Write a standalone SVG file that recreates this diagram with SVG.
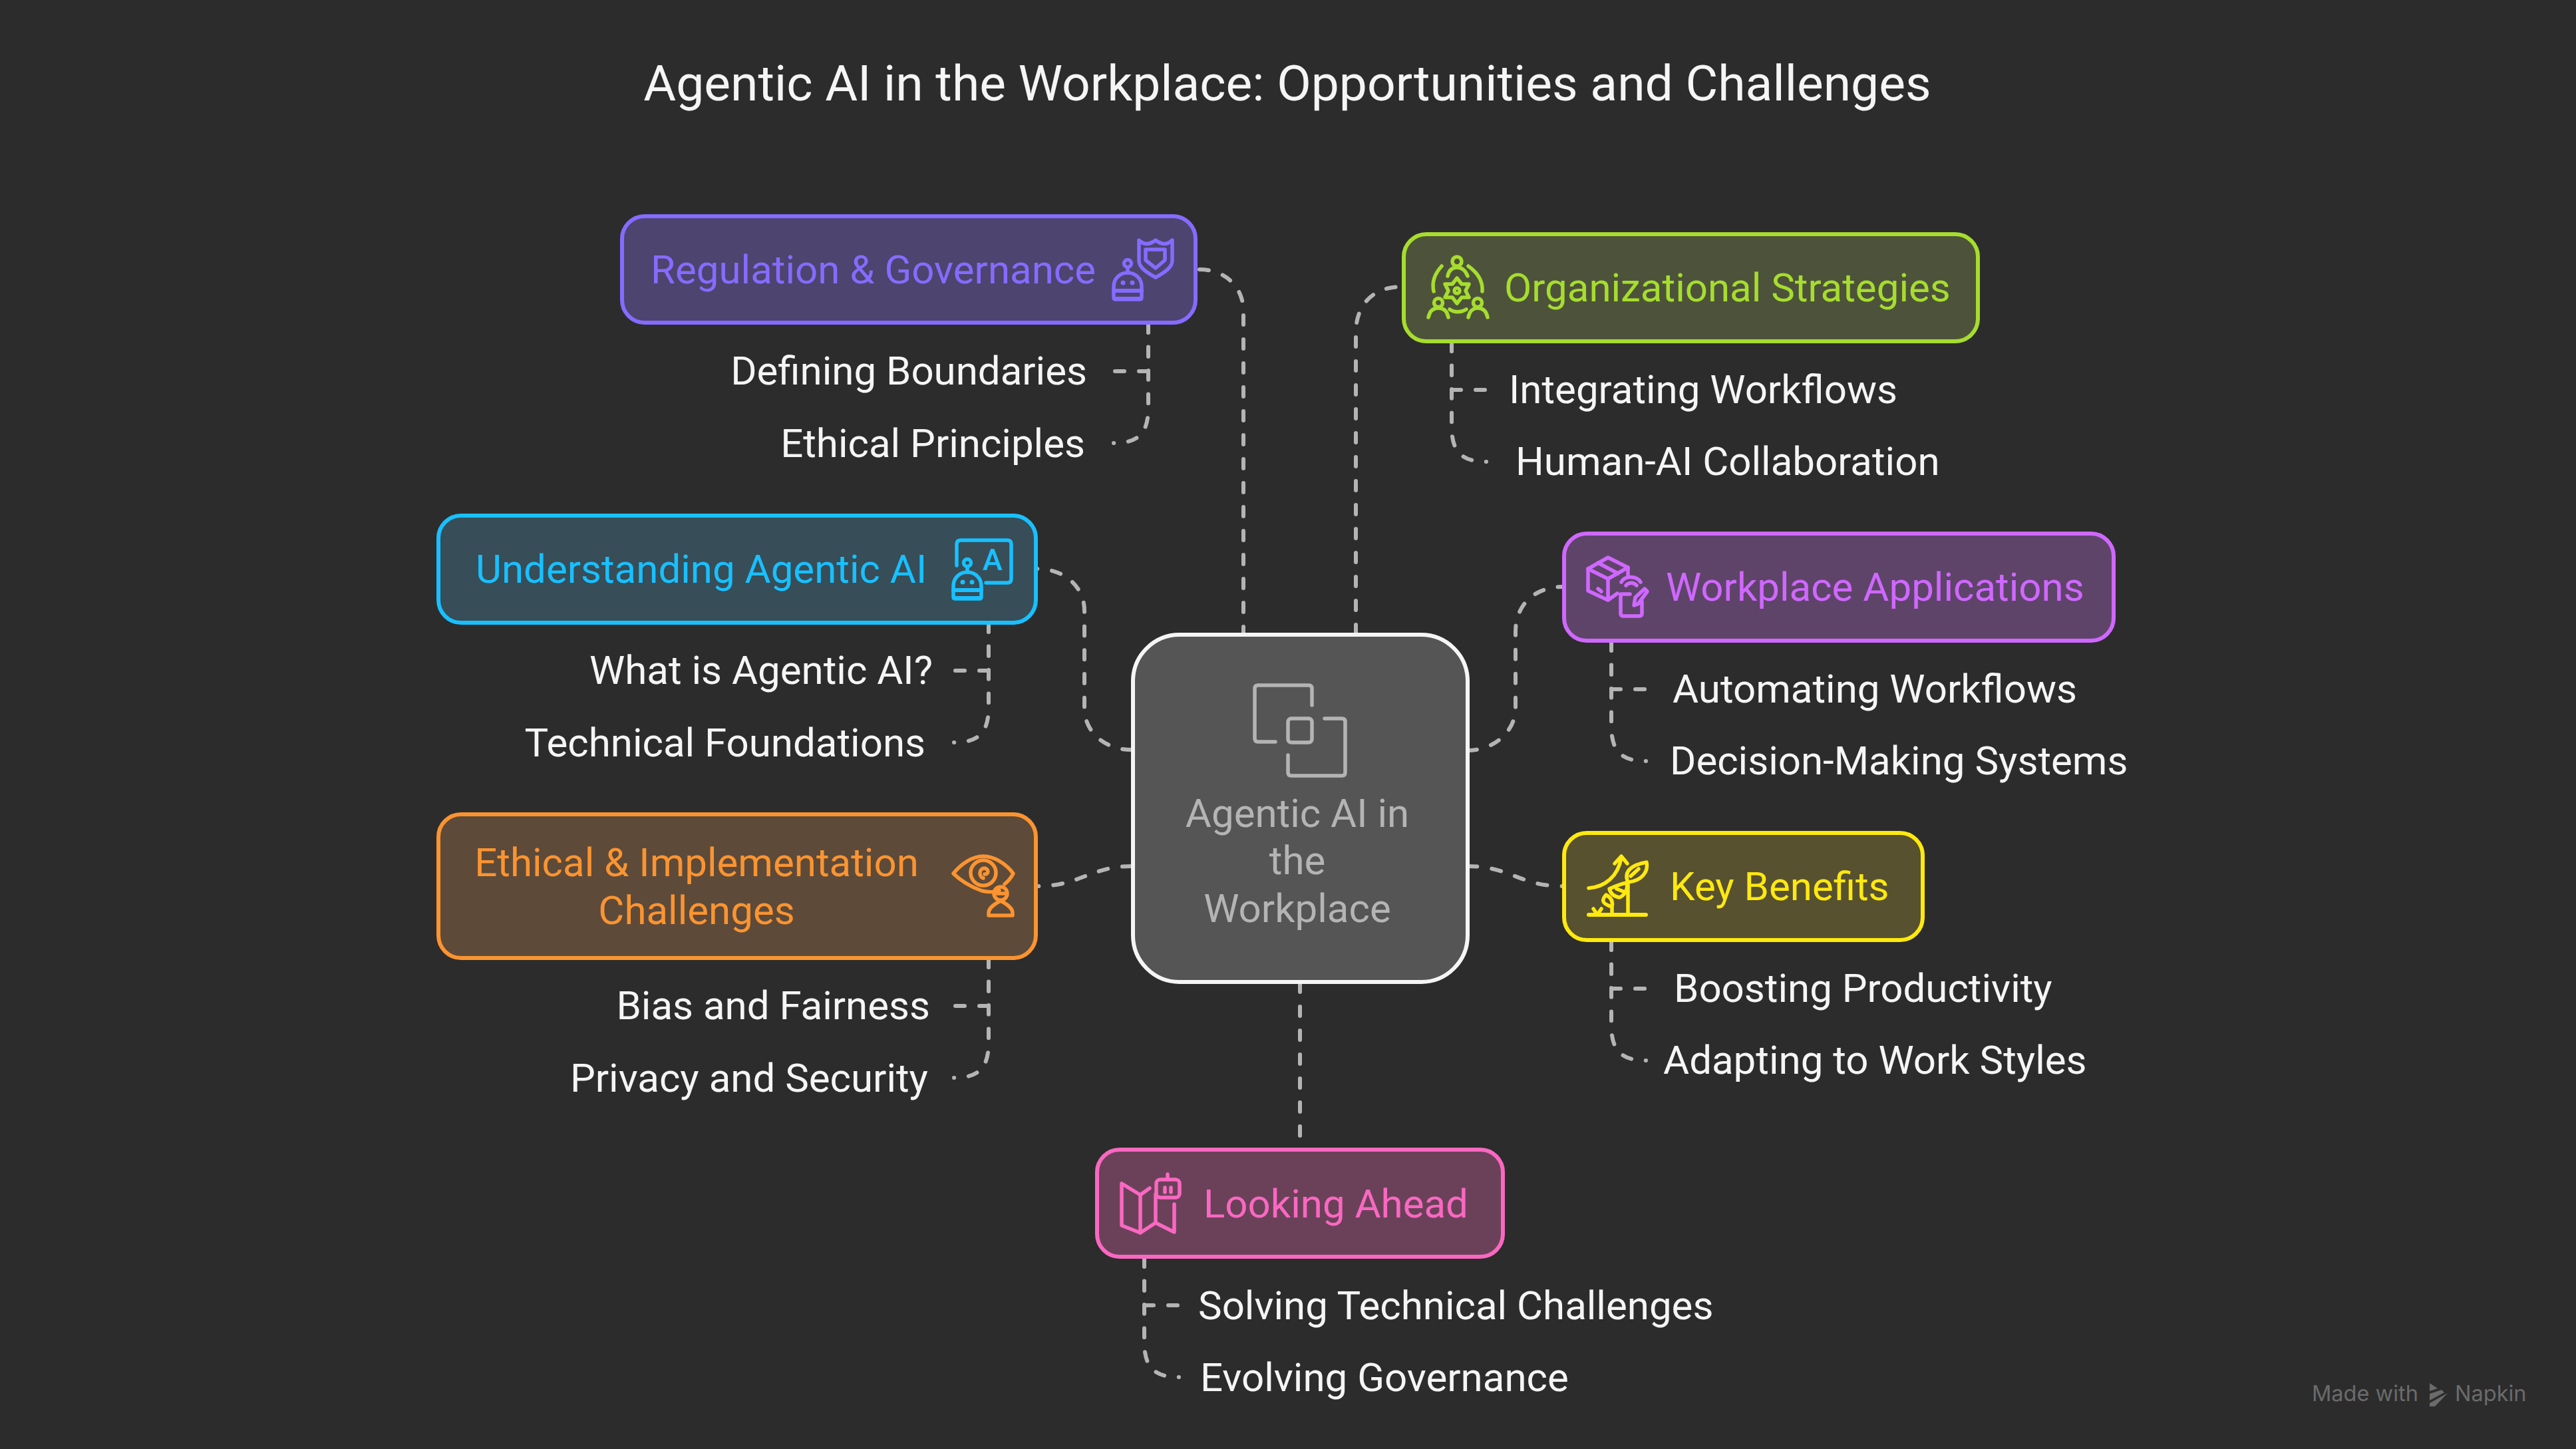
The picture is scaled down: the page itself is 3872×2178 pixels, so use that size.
<svg xmlns="http://www.w3.org/2000/svg" width="3872" height="2178" viewBox="0 0 3872 2178">
<style>
text{font-family:Roboto,"Liberation Sans",sans-serif;font-size:60px}
.title{font-size:75px;fill:#f5f5f5;text-anchor:middle}
.leaf{fill:#f5f5f5}
.end{text-anchor:end}
.mid{text-anchor:middle}
.box{stroke-width:6}
.ic{fill:none;stroke:currentColor;stroke-width:5.5;stroke-linecap:round;stroke-linejoin:round}
.lbl{fill:currentColor}
.sf{fill:currentColor;stroke:none}
#connectors path{fill:none;stroke:#b4b4b4;stroke-width:6;stroke-linecap:round;stroke-linejoin:round;stroke-dasharray:14 22}
.wm{font-family:Inter,"Liberation Sans",sans-serif;font-size:32.5px;fill:#6b6b6b}
</style>
<defs>
<g id="bot" class="ic">
<circle cx="24" cy="7" r="5.5"/><path d="M24 13V21"/>
<path d="M3 42C3 30 12 21 24 21C36 21 45 30 45 42V58Q45 61 42 61H6Q3 61 3 58Z"/>
<path d="M3 48H45" style="stroke-width:6"/><path d="M5 60H43" style="stroke-width:6"/>
<circle class="sf" cx="17" cy="36" r="3.5"/><circle class="sf" cx="31" cy="36" r="3.5"/>
</g>
</defs>
<rect width="3872" height="2178" fill="#2c2c2c"/>
<text class="title" x="1935" y="151">Agentic AI in the Workplace: Opportunities and Challenges</text>

<g id="connectors">
<path d="M1803 405C1840 405 1869 430 1869 468V953"/>
<path d="M2038 953V500C2038 460 2062 431 2107 431"/>
<path pathLength="360.3" d="M1701 1127C1660 1127 1630 1100 1630 1064V918C1630 882 1600 855 1559 855"/>
<path pathLength="144.3" d="M1701 1302C1640 1302 1622 1332 1561 1332"/>
<path d="M2206 1128C2245 1128 2278 1100 2278 1064V950C2278 910 2305 882 2350 882"/>
<path pathLength="144.3" d="M2206 1302C2270 1302 2285 1332 2348 1332"/>
<path d="M1954 1477V1707"/>
<path d="M1726 486V558H1676"/>
<path pathLength="216.2" d="M1726 486V613C1726 650 1712 666 1674 666"/>
<path d="M1486 936V1008H1436"/>
<path pathLength="216.2" d="M1486 936V1063C1486 1100 1472 1116 1434 1116"/>
<path d="M1486 1440V1512H1436"/>
<path pathLength="216.2" d="M1486 1440V1567C1486 1604 1472 1620 1434 1620"/>
<path d="M2182 514V586H2232"/>
<path pathLength="216.2" d="M2182 514V641C2182 678 2196 694 2234 694"/>
<path d="M2422 964V1036H2472"/>
<path pathLength="216.2" d="M2422 964V1091C2422 1128 2436 1144 2474 1144"/>
<path d="M2422 1414V1486H2472"/>
<path pathLength="216.2" d="M2422 1414V1541C2422 1578 2436 1594 2474 1594"/>
<path d="M1720 1890V1962H1770"/>
<path pathLength="216.2" d="M1720 1890V2017C1720 2054 1734 2070 1772 2070"/>
</g>

<g id="node-center">
<rect x="1703" y="954" width="503" height="522" rx="70" fill="#555" stroke="#f5f5f5" stroke-width="6"/>
<g style="color:#b4b4b4" class="ic">
<path d="M1917 1115H1891Q1886 1115 1886 1110V1035Q1886 1030 1891 1030H1967Q1972 1030 1972 1035V1060"/>
<rect x="1936" y="1080" width="36" height="36" rx="5"/>
<path d="M1991 1080H2017Q2022 1080 2022 1085V1161Q2022 1166 2017 1166H1941Q1936 1166 1936 1161V1135"/>
</g>
<g fill="#b4b4b4"><text class="mid" x="1950" y="1243">Agentic AI in</text><text class="mid" x="1950" y="1314">the</text><text class="mid" x="1950" y="1386">Workplace</text></g>
</g>

<g id="node-regulation" style="color:#866bff">
<rect class="box" x="935" y="325" width="862" height="160" rx="34" fill="#4d446f" stroke="currentColor"/>
<text class="lbl" x="978" y="426">Regulation &amp; Governance</text>
<path class="ic" d="M1712 361Q1723 372 1737 361Q1751 372 1762 361V392C1762 402 1750 410 1737 417C1724 410 1712 402 1712 392Z"/>
<path class="ic" d="M1722 375H1751V391L1737 403L1722 391Z"/>
<use href="#bot" x="1671" y="389"/>
<text class="leaf end" x="1634" y="578">Defining Boundaries</text>
<text class="leaf end" x="1631" y="687">Ethical Principles</text>
</g>

<g id="node-understanding" style="color:#18c0ff">
<rect class="box" x="659" y="775" width="898" height="161" rx="34" fill="#374d57" stroke="currentColor"/>
<text class="lbl" x="715" y="876">Understanding Agentic AI</text>
<path class="ic" d="M1438 850V818Q1438 812 1444 812H1514Q1520 812 1520 818V870Q1520 876 1514 876H1482"/>
<text class="lbl mid" style="font-size:45px;font-weight:500" x="1492" y="857">A</text>
<use href="#bot" x="1430" y="839"/>
<text class="leaf end" x="1402" y="1028">What is Agentic AI?</text>
<text class="leaf end" x="1391" y="1137">Technical Foundations</text>
</g>

<g id="node-ethical" style="color:#fa9431">
<rect class="box" x="659" y="1224" width="898" height="216" rx="34" fill="#5e4a39" stroke="currentColor"/>
<text class="lbl mid" x="1047" y="1317">Ethical &amp; Implementation</text>
<text class="lbl mid" x="1047" y="1389">Challenges</text>
<g class="ic">
<path d="M1502 1338C1494 1342 1485 1341 1476 1339C1458 1333 1442 1322 1433 1313C1445 1298 1462 1287 1478 1287C1494 1287 1512 1298 1523 1313C1520 1319 1516 1324 1510 1329"/>
<circle cx="1478" cy="1312" r="19"/>
<path d="M1478 1320C1471 1318 1471 1305 1480 1305C1487 1306 1486 1315 1480 1314"/>
<circle cx="1504" cy="1343" r="10"/><path d="M1497 1343H1510"/>
<path d="M1486 1376V1372C1486 1365 1496 1358 1504 1354C1512 1358 1522 1365 1522 1372V1376Z"/>
</g>
<text class="leaf end" x="1398" y="1532">Bias and Fairness</text>
<text class="leaf end" x="1395" y="1641">Privacy and Security</text>
</g>

<g id="node-organizational" style="color:#a6dd2e">
<rect class="box" x="2110" y="352" width="863" height="161" rx="34" fill="#4d533a" stroke="currentColor"/>
<text class="lbl" x="2261" y="453">Organizational Strategies</text>
<g class="ic">
<circle cx="2190" cy="393" r="7"/><path d="M2176 415C2178 405 2184 402 2190 402C2196 402 2202 405 2206 415"/>
<path d="M2167 400C2156 412 2152 425 2155 438M2207 400C2224 412 2229 425 2228 438"/>
<path d="M2190 418L2197 427L2208 427L2203 437L2208 447L2197 447L2190 456L2183 447L2172 447L2177 437L2172 427L2183 427Z"/>
<circle cx="2190" cy="437" r="4"/>
<circle cx="2162" cy="455" r="6.5"/><path d="M2147 477C2149 467 2155 463 2162 463C2169 463 2175 467 2177 477"/>
<circle cx="2221" cy="455" r="6.5"/><path d="M2207 477C2209 467 2215 463 2221 463C2228 463 2234 467 2236 477"/>
<path d="M2179 465C2186 470 2196 470 2204 465"/>
</g>
<text class="leaf" x="2268" y="606">Integrating Workflows</text>
<text class="leaf" x="2278" y="714">Human-AI Collaboration</text>
</g>

<g id="node-workplace" style="color:#cf68ff">
<rect class="box" x="2351" y="802" width="826" height="161" rx="34" fill="#5f4469" stroke="currentColor"/>
<text class="lbl" x="2504" y="903">Workplace Applications</text>
<g class="ic">
<path d="M2417 838L2447 853L2417 870L2387 855Z"/>
<path d="M2387 855V888L2417 902V870M2447 853V865M2417 902L2431 892"/>
<path d="M2402 846L2432 862M2402 885L2407 889"/>
<path d="M2437 875C2442 865 2460 865 2466 875M2444 880C2448 875 2456 875 2460 880"/>
<path d="M2436 893V922Q2436 926 2440 926H2464Q2468 926 2468 922V904M2436 893H2450"/>
<path d="M2458 898L2472 885L2476 889L2462 908L2456 910Z"/>
</g>
<text class="leaf" x="2514" y="1056">Automating Workflows</text>
<text class="leaf" x="2510" y="1164">Decision-Making Systems</text>
</g>

<g id="node-key" style="color:#ffe90f">
<rect class="box" x="2351" y="1252" width="539" height="161" rx="34" fill="#575130" stroke="currentColor"/>
<text class="lbl" x="2510" y="1353">Key Benefits</text>
<g class="ic">
<path style="stroke-width:6" d="M2388 1375H2474"/>
<path d="M2447 1375V1326"/>
<path d="M2388 1335C2412 1333 2432 1318 2437 1289M2427 1298L2437 1287L2446 1298"/>
<path d="M2447 1326C2440 1310 2452 1300 2475 1296C2478 1310 2468 1324 2447 1326ZM2451 1317L2463 1306"/>
<path d="M2419 1336C2428 1332 2438 1328 2445 1327C2448 1338 2440 1347 2434 1349C2426 1347 2421 1344 2419 1336ZM2430 1336L2440 1340"/>
<path d="M2414 1345C2408 1352 2406 1358 2423 1363C2425 1355 2421 1349 2414 1345ZM2423 1363V1375"/>
<path d="M2395 1366L2401 1375L2407 1366"/>
</g>
<text class="leaf" x="2516" y="1506">Boosting Productivity</text>
<text class="leaf" x="2500" y="1614">Adapting to Work Styles</text>
</g>

<g id="node-looking" style="color:#f968c0">
<rect class="box" x="1649" y="1728" width="610" height="161" rx="34" fill="#6b415a" stroke="currentColor"/>
<text class="lbl" x="1809" y="1830">Looking Ahead</text>
<g class="ic">
<path d="M1728 1786L1714 1796L1686 1779V1842L1714 1853L1737 1838L1765 1852V1810"/>
<path d="M1714 1796V1853M1737 1795V1838"/>
<rect x="1738" y="1773" width="35" height="27" rx="6"/>
<path d="M1755 1765V1773M1751 1785V1792M1760 1785V1792"/>
</g>
<text class="leaf" x="1801" y="1983">Solving Technical Challenges</text>
<text class="leaf" x="1804" y="2091">Evolving Governance</text>
</g>

<g id="watermark">
<text class="wm" x="3475" y="2106">Made with</text>
<path fill="#6b6b6b" d="M3652 2079L3664 2087L3652 2091ZM3652 2095L3670 2089L3674 2093L3652 2105ZM3652 2109L3679 2094L3660 2114L3652 2114Z"/>
<text class="wm" x="3690" y="2106">Napkin</text>
</g>
</svg>
